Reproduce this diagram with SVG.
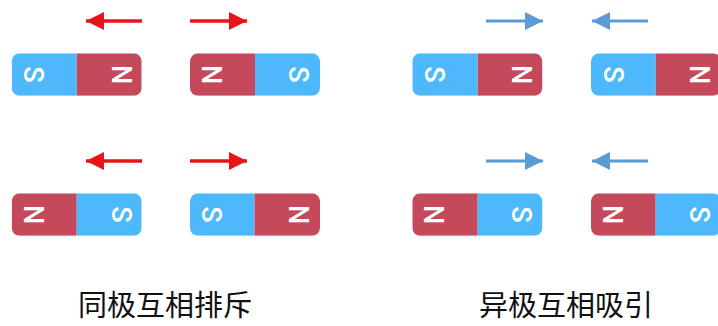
<svg xmlns="http://www.w3.org/2000/svg" width="718" height="326" viewBox="0 0 718 326">
<style>
.s{fill:#4db8fb}
.n{fill:#c44a5b}
.lt{fill:#fff;font-family:Roboto,"Liberation Sans",sans-serif;font-size:27px;font-weight:500;text-anchor:middle;dominant-baseline:central}
.red{stroke:#e8141a;stroke-width:3.5;fill:none}
.blue{stroke:#5b9bd5;stroke-width:3;fill:none}
.cap{font-family:"Noto Sans CJK SC",sans-serif;font-size:29px;fill:#111;text-anchor:middle}
</style>
<defs>
<marker id="ar" markerUnits="userSpaceOnUse" markerWidth="20" markerHeight="20" refX="18" refY="9" orient="auto"><path d="M0,0 L18,9 L0,18 Z" fill="#e8141a"/></marker>
<marker id="ab" markerUnits="userSpaceOnUse" markerWidth="20" markerHeight="20" refX="18" refY="9" orient="auto"><path d="M0,0 L18,9 L0,18 Z" fill="#5b9bd5"/></marker>
<clipPath id="c1"><rect x="0" y="0" width="130" height="42.5" rx="8"/></clipPath>
</defs>
<g id="connectors">
<line class="red" x1="142" y1="21" x2="86" y2="21" marker-end="url(#ar)"/>
<line class="red" x1="190" y1="21" x2="247" y2="21" marker-end="url(#ar)"/>
<line class="blue" x1="486" y1="21" x2="543" y2="21" marker-end="url(#ab)"/>
<line class="blue" x1="648" y1="21" x2="592" y2="21" marker-end="url(#ab)"/>
<line class="red" x1="142" y1="161" x2="86" y2="161" marker-end="url(#ar)"/>
<line class="red" x1="190" y1="161" x2="247" y2="161" marker-end="url(#ar)"/>
<line class="blue" x1="486" y1="161" x2="543" y2="161" marker-end="url(#ab)"/>
<line class="blue" x1="648" y1="161" x2="592" y2="161" marker-end="url(#ab)"/>
</g>
<g id="m1" transform="translate(11.7,53.3)">
<g clip-path="url(#c1)"><rect class="s" x="0" y="0" width="65" height="42.5"/><rect class="n" x="65" y="0" width="65" height="42.5"/></g>
<text class="lt" transform="translate(21.5,21.2) rotate(90)">S</text>
<text class="lt" transform="translate(109,21.2) rotate(90)">N</text>
</g>
<g id="m2" transform="translate(190,53.3)">
<g clip-path="url(#c1)"><rect class="n" x="0" y="0" width="65" height="42.5"/><rect class="s" x="65" y="0" width="65" height="42.5"/></g>
<text class="lt" transform="translate(20.5,21.2) rotate(90)">N</text>
<text class="lt" transform="translate(107.5,21.2) rotate(90)">S</text>
</g>
<g id="m3" transform="translate(412.3,53.3)">
<g clip-path="url(#c1)"><rect class="s" x="0" y="0" width="65.4" height="42.5"/><rect class="n" x="65.4" y="0" width="65" height="42.5"/></g>
<text class="lt" transform="translate(21.5,21.2) rotate(90)">S</text>
<text class="lt" transform="translate(109,21.2) rotate(90)">N</text>
</g>
<g id="m4" transform="translate(591,53.3)">
<g clip-path="url(#c1)"><rect class="s" x="0" y="0" width="64.7" height="42.5"/><rect class="n" x="64.7" y="0" width="66" height="42.5"/></g>
<text class="lt" transform="translate(21.5,21.2) rotate(90)">S</text>
<text class="lt" transform="translate(108,21.2) rotate(90)">N</text>
</g>
<g id="m5" transform="translate(11.7,193.3)">
<g clip-path="url(#c1)"><rect class="n" x="0" y="0" width="65" height="42.5"/><rect class="s" x="65" y="0" width="65" height="42.5"/></g>
<text class="lt" transform="translate(21,21.2) rotate(90)">N</text>
<text class="lt" transform="translate(109,21.2) rotate(90)">S</text>
</g>
<g id="m6" transform="translate(190,193.3)">
<g clip-path="url(#c1)"><rect class="s" x="0" y="0" width="64.5" height="42.5"/><rect class="n" x="64.5" y="0" width="66" height="42.5"/></g>
<text class="lt" transform="translate(21,21.2) rotate(90)">S</text>
<text class="lt" transform="translate(108,21.2) rotate(90)">N</text>
</g>
<g id="m7" transform="translate(412.3,193.3)">
<g clip-path="url(#c1)"><rect class="n" x="0" y="0" width="65.4" height="42.5"/><rect class="s" x="65.4" y="0" width="65" height="42.5"/></g>
<text class="lt" transform="translate(21,21.2) rotate(90)">N</text>
<text class="lt" transform="translate(109,21.2) rotate(90)">S</text>
</g>
<g id="m8" transform="translate(591,193.3)">
<g clip-path="url(#c1)"><rect class="n" x="0" y="0" width="64.7" height="42.5"/><rect class="s" x="64.7" y="0" width="66" height="42.5"/></g>
<text class="lt" transform="translate(21,21.2) rotate(90)">N</text>
<text class="lt" transform="translate(108,21.2) rotate(90)">S</text>
</g>
<text class="cap" x="165" y="316">同极互相排斥</text>
<text class="cap" x="566" y="316">异极互相吸引</text>
</svg>
